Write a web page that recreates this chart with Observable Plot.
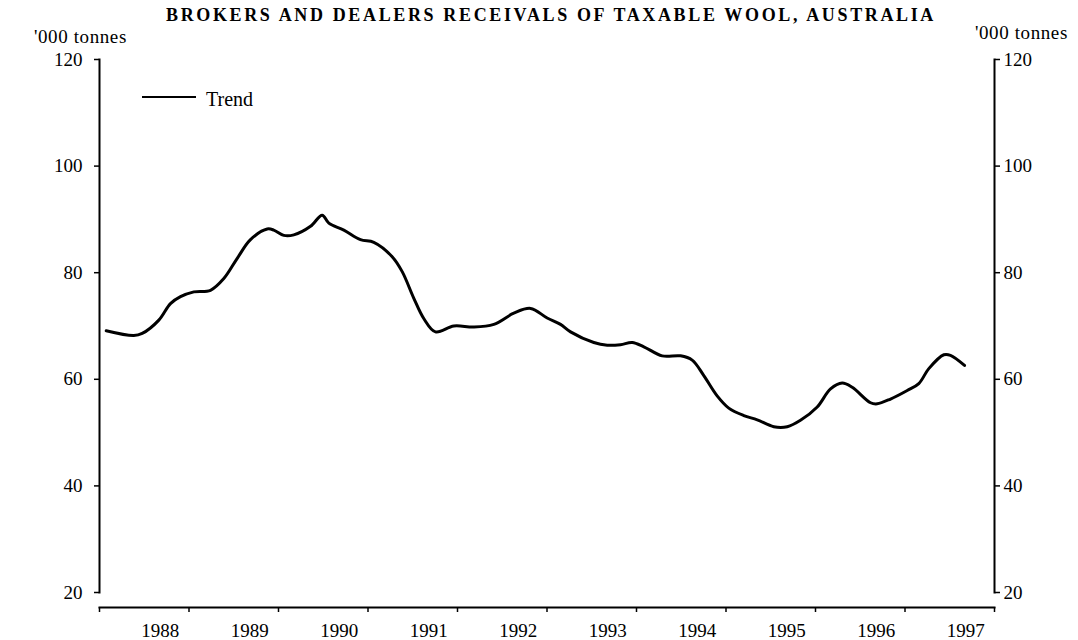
<!DOCTYPE html>
<html>
<head>
<meta charset="utf-8">
<script src="https://cdn.jsdelivr.net/npm/d3@7"></script>
<script src="https://cdn.jsdelivr.net/npm/@observablehq/plot@0.6"></script>
<style>
  html, body { margin: 0; padding: 0; background: #fff; }
  #wrap { position: relative; width: 1078px; height: 640px; overflow: hidden; font-family: "Liberation Serif", "Times New Roman", serif; color: #000; }
  #chart { position: absolute; left: 0; top: 0; }
  .ov { position: absolute; white-space: nowrap; line-height: 1; }
  #title { left: 166px; top: 6px; font-size: 18px; font-weight: bold; }
  #unitL { left: 34px; top: 27px; font-size: 19px; letter-spacing: 0.6px; }
  #unitR { left: 975px; top: 23px; font-size: 19px; letter-spacing: 0.6px; }
  #legLine { left: 142px; top: 96px; width: 54px; height: 0; border-top: 2px solid #000; }
  #legText { left: 206px; top: 89px; font-size: 20px; }
</style>
</head>
<body>
<div id="wrap">
  <div id="chart"></div>
  <div class="ov" id="title">BROKERS AND DEALERS RECEIVALS OF TAXABLE WOOL, AUSTRALIA</div>
  <div class="ov" id="unitL">'000 tonnes</div>
  <div class="ov" id="unitR">'000 tonnes</div>
  <div class="ov" id="legLine"></div>
  <div class="ov" id="legText">Trend</div>
</div>
<script>
// Time position in decimal years, trend value in '000 tonnes
const t = [1987.575, 1987.883, 1987.977, 1988.163, 1988.293, 1988.405, 1988.554, 1988.740, 1988.889,
  1989.039, 1989.187, 1989.374, 1989.447, 1989.559, 1989.671, 1989.858, 1989.988,
  1990.062, 1990.230, 1990.416, 1990.565, 1990.770, 1990.882,
  1991.012, 1991.123, 1991.254, 1991.459, 1991.682, 1991.906,
  1992.129, 1992.316, 1992.502, 1992.651, 1992.763,
  1993.023, 1993.173, 1993.321, 1993.452, 1993.582, 1993.787, 1993.992,
  1994.122, 1994.252, 1994.401, 1994.531, 1994.699, 1994.849,
  1995.034, 1995.184, 1995.332, 1995.519, 1995.668, 1995.798, 1995.910,
  1996.115, 1996.189, 1996.338, 1996.525, 1996.654, 1996.766, 1996.934,
  1997.008, 1997.165];
const trend = [69.1, 68.2, 68.6, 71.1, 74.2, 75.5, 76.4, 76.7, 78.9,
  82.7, 86.2, 88.2, 88.0, 87.0, 87.1, 88.7, 90.8,
  89.3, 88.0, 86.2, 85.7, 83.0, 80.2,
  75.2, 71.4, 68.9, 70.0, 69.8, 70.3,
  72.4, 73.3, 71.5, 70.3, 68.9,
  66.9, 66.4, 66.5, 66.9, 66.1, 64.4, 64.4,
  63.6, 60.7, 56.9, 54.6, 53.2, 52.4,
  51.1, 51.1, 52.3, 54.8, 58.2, 59.3, 58.5,
  55.6, 55.4, 56.3, 57.9, 59.2, 62.0, 64.6,
  64.5, 62.6];
const yearLabels = [1988, 1989, 1990, 1991, 1992, 1993, 1994, 1995, 1996, 1997];
const yearBounds = [1987.5, 1988.5, 1989.5, 1990.5, 1991.5, 1992.5, 1993.5, 1994.5, 1995.5, 1996.5, 1997.5];
const yTicks = [20, 40, 60, 80, 100, 120];

const data = t.map((d, i) => ({t: d, v: trend[i]}));

const chart = Plot.plot({
  width: 1078,
  height: 640,
  marginTop: 59,
  marginBottom: 33,
  marginLeft: 99,
  marginRight: 84,
  x: {domain: [yearBounds[0], yearBounds[yearBounds.length - 1]]},
  y: {domain: [20, 120], insetBottom: 15},
  style: {fontFamily: "Liberation Serif, Times New Roman, serif", fontSize: "19px", color: "#000", background: "#fff"},
  marks: [
    Plot.frame({anchor: "left", insetBottom: 15, stroke: "#000", strokeWidth: 2}),
    Plot.frame({anchor: "right", insetBottom: 15, stroke: "#000", strokeWidth: 2}),
    Plot.frame({anchor: "bottom", stroke: "#000", strokeWidth: 2}),
    Plot.axisY({anchor: "left", ticks: yTicks, tickSize: 5, tickPadding: 12, label: null, strokeWidth: 1.5}),
    Plot.axisY({anchor: "right", ticks: yTicks, tickSize: 5, tickPadding: 4, label: null, strokeWidth: 1.5}),
    Plot.axisX({ticks: yearBounds, tickSize: 5, tickFormat: () => "", label: null, strokeWidth: 1.5}),
    Plot.axisX({ticks: yearLabels, tickSize: 0, tickPadding: 16, dx: 16, tickFormat: d => String(d), label: null}),
    Plot.line(data, {x: "t", y: "v", curve: "catmull-rom", stroke: "#000", strokeWidth: 3, strokeLinejoin: "round"})
  ]
});
document.getElementById("chart").appendChild(chart);

// stretch title letter spacing to match reference span
const title = document.getElementById("title");
const w = title.getBoundingClientRect().width;
const target = 770;
const n = title.textContent.length;
title.style.letterSpacing = Math.max(0, (target - w) / n) + "px";
</script>
</body>
</html>
